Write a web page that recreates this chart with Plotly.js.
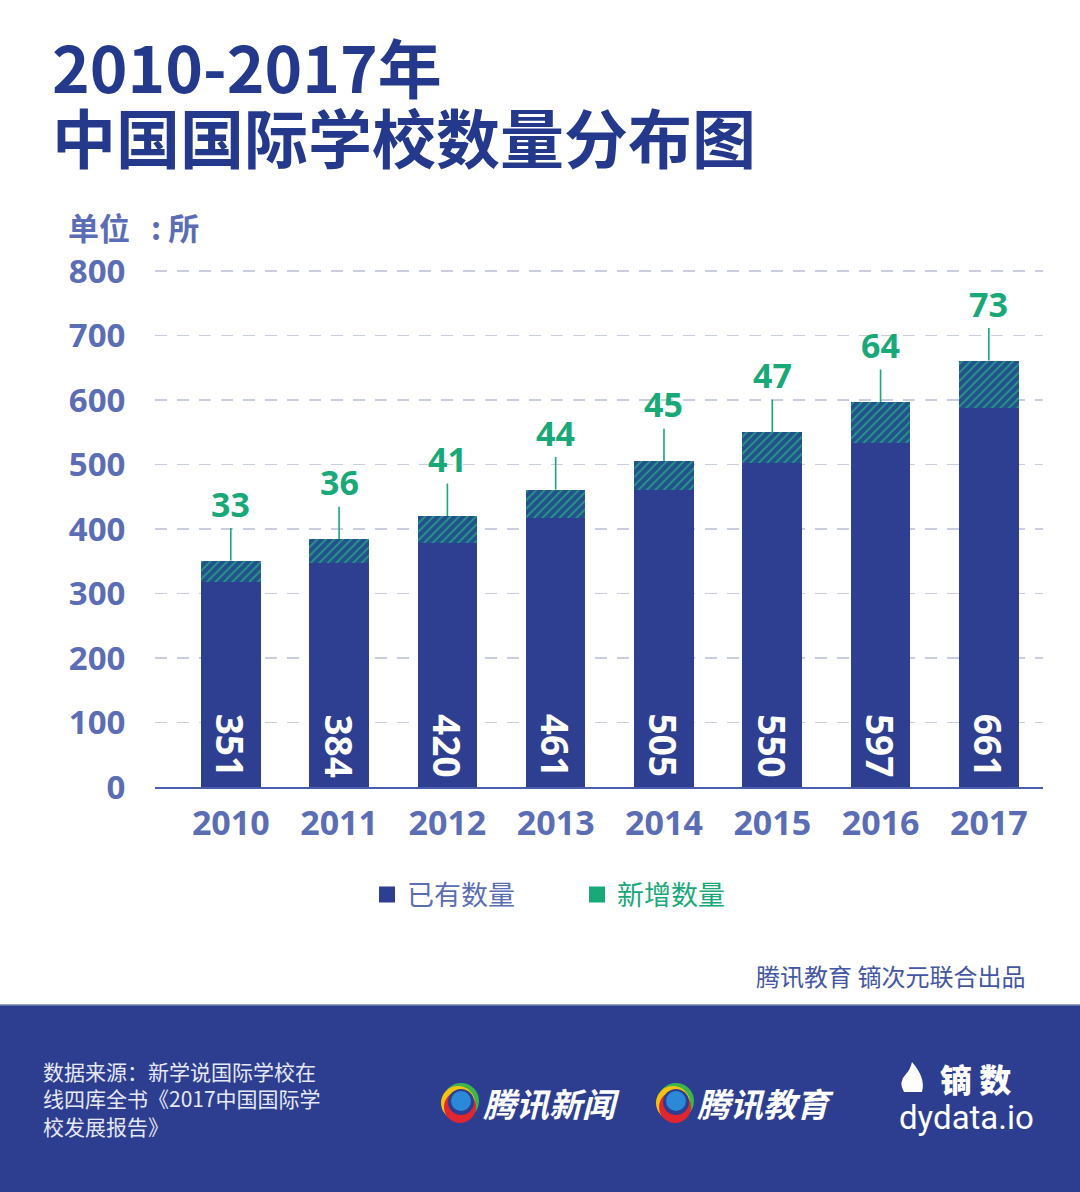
<!DOCTYPE html>
<html>
<head>
<meta charset="utf-8">
<script src="https://cdn.plot.ly/plotly-3.0.1.min.js"></script>
<style>html,body{margin:0;padding:0;background:#fff;}#chart{width:1080px;height:1192px;}</style>
</head>
<body>
<div id="chart"></div>
<script>
// ---- data ----
const years = ['2010','2011','2012','2013','2014','2015','2016','2017'];
const totals = [351, 384, 420, 461, 505, 550, 597, 661];
const added = [33, 36, 41, 44, 45, 47, 64, 73];
const yTicks = [0, 100, 200, 300, 400, 500, 600, 700, 800];
const seriesNames = ['已有数量', '新增数量'];
const existing = totals.map((t, i) => t - added[i]);

// ---- styling ----
const NAVY = '#24398b';
const BAR = '#2e3f92';
const TICK = '#5b6db5';
const GREEN = '#19a878';
const NUMFONT = 'Open Sans, Noto Sans CJK SC, sans-serif';
const CJK = 'Noto Sans CJK SC, sans-serif';

const L = 155, R = 1043, T = 269, B = 787;
const px = X => (X - L) / (R - L);
const py = Y => (B - Y) / (B - T);

const traces = [
  {
    type: 'bar', x: years, y: existing, name: seriesNames[0], showlegend: false,
    marker: {color: BAR, line: {width: 0}}, width: 0.55, hoverinfo: 'skip'
  },
  {
    type: 'bar', x: years, y: added, name: seriesNames[1], showlegend: false,
    marker: {color: '#22528c', line: {width: 0},
      pattern: {shape: '/', fgcolor: '#2a9a8a', bgcolor: '#22528c', size: 6, solidity: 0.3}},
    width: 0.55, hoverinfo: 'skip'
  },
  {
    type: 'scatter', mode: 'markers', x: [null], y: [null],
    name: '<span style="color:' + TICK + '">' + seriesNames[0] + '</span>',
    marker: {symbol: 'square', size: 20, color: BAR}
  },
  {
    type: 'scatter', mode: 'markers', x: [null], y: [null],
    name: '<span style="color:' + GREEN + '">' + seriesNames[1] + '</span>',
    marker: {symbol: 'square', size: 20, color: GREEN}
  }
];

const annotations = [];
years.forEach((yr, i) => {
  annotations.push({
    x: i, y: totals[i], xref: 'x', yref: 'y', text: String(added[i]),
    showarrow: true, arrowhead: 0, arrowwidth: 1.6, arrowcolor: GREEN,
    ax: 0, ay: -57, standoff: 0,
    font: {family: NUMFONT, size: 34, color: GREEN, weight: 700}
  });
  annotations.push({
    x: i, y: 0, xref: 'x', yref: 'y', text: String(totals[i]),
    showarrow: false, textangle: 90, yanchor: 'bottom', xanchor: 'center', yshift: 8,
    font: {family: NUMFONT, size: 37, color: '#ffffff', weight: 700}
  });
});

// titles & texts
annotations.push(
  {xref: 'paper', yref: 'paper', x: px(50), y: py(65), xanchor: 'left', yanchor: 'middle', showarrow: false,
   text: '2010-2017年', font: {family: CJK, size: 64, color: NAVY, weight: 700}},
  {xref: 'paper', yref: 'paper', x: px(50), y: py(135), xanchor: 'left', yanchor: 'middle', showarrow: false,
   text: '中国国际学校数量分布图', font: {family: CJK, size: 64, color: NAVY, weight: 700}},
  {xref: 'paper', yref: 'paper', x: px(66), y: py(226), xanchor: 'left', yanchor: 'middle', showarrow: false,
   text: '单位&nbsp;&nbsp;&nbsp;:&nbsp;所', font: {family: CJK, size: 31, color: TICK, weight: 700}},
  {xref: 'paper', yref: 'paper', x: px(1027), y: py(975), xanchor: 'right', yanchor: 'middle', showarrow: false,
   text: '腾讯教育 镝次元联合出品', font: {family: CJK, size: 24, color: '#4457a4'}},
  {xref: 'paper', yref: 'paper', x: px(41), y: py(1098), xanchor: 'left', yanchor: 'middle', showarrow: false, align: 'left',
   text: '数据来源：新学说国际学校在<br>线四库全书《2017中国国际学<br>校发展报告》', font: {family: CJK, size: 21, color: '#e6e9f4'}},
  {xref: 'paper', yref: 'paper', x: px(481), y: py(1103), xanchor: 'left', yanchor: 'middle', showarrow: false,
   text: '<b><i>腾讯新闻</i></b>', font: {family: CJK, size: 33, color: '#ffffff'}},
  {xref: 'paper', yref: 'paper', x: px(695), y: py(1103), xanchor: 'left', yanchor: 'middle', showarrow: false,
   text: '<b><i>腾讯教育</i></b>', font: {family: CJK, size: 33, color: '#ffffff'}},
  {xref: 'paper', yref: 'paper', x: px(938), y: py(1078), xanchor: 'left', yanchor: 'middle', showarrow: false,
   text: '镝 数', font: {family: CJK, size: 32, color: '#ffffff', weight: 900}},
  {xref: 'paper', yref: 'paper', x: px(1036), y: py(1117), xanchor: 'right', yanchor: 'middle', showarrow: false,
   text: 'dydata.io', font: {family: 'Roboto, sans-serif', size: 33, color: '#ffffff'}}
);

function circ(cx, cy, r, color) {
  return {type: 'circle', xref: 'paper', yref: 'paper', x0: px(cx - r), x1: px(cx + r), y0: py(cy + r), y1: py(cy - r),
          fillcolor: color, line: {width: 0}};
}
const shapes = [
  {type: 'rect', xref: 'paper', yref: 'paper', x0: px(0), x1: px(1080), y0: py(1192), y1: py(1005),
   fillcolor: '#2d3e90', line: {width: 0}, layer: 'below'},
  {type: 'line', xref: 'paper', yref: 'paper', x0: px(0), x1: px(1080), y0: py(1005), y1: py(1005),
   line: {color: '#6f7fb8', width: 1.5}}
];
[460, 675].forEach(cx => {
  shapes.push(circ(cx + 1, 1101, 18, '#3cb64a'));
  shapes.push(circ(cx - 2, 1103, 17, '#f2c40f'));
  shapes.push(circ(cx, 1107, 16, '#e0262f'));
  shapes.push(circ(cx + 1, 1102, 13, '#2d3e90'));
  shapes.push(circ(cx + 1, 1101, 10, '#2a8ad8'));
});
// dydata flame
shapes.push({type: 'path', xref: 'paper', yref: 'paper', fillcolor: '#ffffff', line: {width: 0},
  path: 'M' + px(912) + ',' + py(1062) + ' Q' + px(926) + ',' + py(1078) + ' ' + px(922) + ',' + py(1092) +
        ' L' + px(904) + ',' + py(1092) + ' Q' + px(898) + ',' + py(1082) + ' ' + px(906) + ',' + py(1074) +
        ' Q' + px(910) + ',' + py(1070) + ' ' + px(912) + ',' + py(1062) + ' Z'});

const layout = {
  width: 1080, height: 1192,
  margin: {l: L, r: 1080 - R, t: T, b: 1192 - B, pad: 0},
  paper_bgcolor: '#ffffff', plot_bgcolor: '#ffffff',
  barmode: 'stack',
  showlegend: true,
  legend: {orientation: 'h', traceorder: 'normal', x: px(367), y: py(895), xanchor: 'left', yanchor: 'middle',
           font: {family: CJK, size: 27, color: TICK}, entrywidth: 165, itemclick: false, bgcolor: 'rgba(0,0,0,0)'},
  xaxis: {
    type: 'category', range: [-0.7, 7.5], fixedrange: true,
    showgrid: false, zeroline: false, showline: true, linecolor: '#4a5cae', linewidth: 2,
    ticks: 'outside', ticklen: 5, tickcolor: 'rgba(0,0,0,0)',
    tickfont: {family: NUMFONT, size: 34, color: TICK, weight: 700}
  },
  yaxis: {
    range: [0, 803], fixedrange: true, tickvals: yTicks, ticktext: yTicks.map(String),
    showgrid: true, gridcolor: '#c9cde0', griddash: '12px,10px', gridwidth: 1.5,
    zeroline: false, showline: false,
    ticks: 'outside', ticklen: 22, tickcolor: 'rgba(0,0,0,0)',
    tickfont: {family: NUMFONT, size: 33, color: TICK, weight: 700}
  },
  annotations: annotations,
  shapes: shapes
};

Plotly.newPlot('chart', traces, layout, {displayModeBar: false, staticPlot: true});
</script>
</body>
</html>
